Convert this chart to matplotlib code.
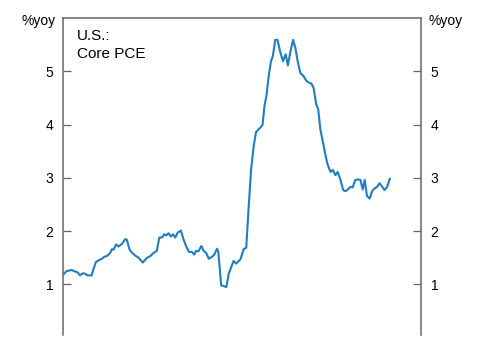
import matplotlib
matplotlib.use("Agg")
import matplotlib.pyplot as plt

# ==========================================
# DATA (x in decimal years)
# ==========================================
years = [
    2015.03, 2015.11, 2015.27, 2015.37, 2015.44, 2015.52, 2015.61, 2015.68,
    2015.75, 2015.88, 2015.93, 2016.01, 2016.09, 2016.19, 2016.27, 2016.34,
    2016.45, 2016.50, 2016.55, 2016.63, 2016.70, 2016.81, 2016.91, 2016.96,
    2017.04, 2017.11, 2017.22, 2017.32, 2017.45, 2017.58, 2017.68, 2017.78,
    2017.88, 2017.96, 2018.04, 2018.11, 2018.17, 2018.24, 2018.31, 2018.38,
    2018.45, 2018.52, 2018.62, 2018.70, 2018.78, 2018.87, 2018.96, 2019.03,
    2019.09, 2019.16, 2019.25, 2019.32, 2019.40, 2019.48, 2019.58, 2019.65,
    2019.73, 2019.77, 2019.86, 2019.93, 2020.02, 2020.09, 2020.14, 2020.24,
    2020.32, 2020.45, 2020.55, 2020.63, 2020.70, 2020.78, 2020.86, 2020.93,
    2021.01, 2021.13, 2021.19, 2021.25, 2021.32, 2021.39, 2021.45, 2021.52,
    2021.59, 2021.68, 2021.76, 2021.84, 2021.91, 2021.98, 2022.07, 2022.14,
    2022.21, 2022.29, 2022.39, 2022.48, 2022.55, 2022.63, 2022.70, 2022.78,
    2022.84, 2022.91, 2022.99, 2023.06, 2023.13, 2023.22, 2023.29, 2023.37,
    2023.44, 2023.52, 2023.61, 2023.68, 2023.75, 2023.83, 2023.90, 2023.98,
    2024.06, 2024.14, 2024.21, 2024.27, 2024.34, 2024.42, 2024.50, 2024.57,
    2024.65, 2024.73, 2024.81, 2024.88, 2024.96, 2025.04,
]
core_pce = [
    1.20, 1.25, 1.27, 1.24, 1.23, 1.17, 1.21, 1.20,
    1.17, 1.17, 1.28, 1.42, 1.45, 1.48, 1.52, 1.53,
    1.59, 1.66, 1.65, 1.75, 1.71, 1.76, 1.85, 1.84,
    1.66, 1.60, 1.54, 1.50, 1.41, 1.50, 1.53, 1.59,
    1.63, 1.88, 1.88, 1.94, 1.92, 1.96, 1.90, 1.94,
    1.88, 1.97, 2.01, 1.85, 1.72, 1.61, 1.61, 1.56,
    1.63, 1.62, 1.72, 1.63, 1.59, 1.48, 1.52, 1.56,
    1.67, 1.62, 0.98, 0.97, 0.95, 1.20, 1.28, 1.44,
    1.39, 1.47, 1.66, 1.69, 2.41, 3.16, 3.60, 3.86,
    3.91, 3.99, 4.35, 4.54, 4.91, 5.19, 5.29, 5.59,
    5.59, 5.35, 5.19, 5.32, 5.11, 5.35, 5.59, 5.44,
    5.19, 4.97, 4.91, 4.82, 4.79, 4.77, 4.69, 4.38,
    4.29, 3.90, 3.66, 3.44, 3.25, 3.11, 3.15, 3.05,
    3.11, 2.97, 2.77, 2.75, 2.78, 2.83, 2.82, 2.96,
    2.97, 2.96, 2.78, 2.96, 2.66, 2.61, 2.75, 2.80,
    2.83, 2.90, 2.83, 2.77, 2.83, 2.98,
]
y_ticks = [1, 2, 3, 4, 5]

LINE_COLOR = "#1f7ec2"
SPINE_COLOR = "#666666"

plt.rcParams["font.family"] = ["Liberation Sans", "DejaVu Sans"]

# ==========================================
# PLOT
# ==========================================
fig = plt.figure(figsize=(4.85, 3.6), dpi=100)
ax = fig.add_axes([0.130, 0.0694, 0.738, 0.8806])

ax.plot(years, core_pce, color=LINE_COLOR, linewidth=1.5)

ax.set_xlim(2015, 2026)
ax.set_ylim(0.05, 6)
ax.set_xticks([])
ax.set_yticks(y_ticks)

for side in ["left", "right", "top"]:
    ax.spines[side].set_color(SPINE_COLOR)
    ax.spines[side].set_linewidth(1.1)
ax.spines["bottom"].set_visible(False)

ax.tick_params(axis="y", which="both", direction="in", length=6,
               width=0.9, color=SPINE_COLOR, labelsize=10, pad=7,
               left=True, right=True, labelleft=True, labelright=True)

ax.text(-0.02, 0.99, "%yoy", transform=ax.transAxes, ha="right",
        va="center", fontsize=10)
ax.text(1.02, 0.99, "%yoy", transform=ax.transAxes, ha="left",
        va="center", fontsize=10)
ax.text(0.04, 0.965, "U.S.:\nCore PCE", transform=ax.transAxes,
        ha="left", va="top", fontsize=11, linespacing=1.4)

plt.savefig("out.png", dpi=100)
plt.close()
